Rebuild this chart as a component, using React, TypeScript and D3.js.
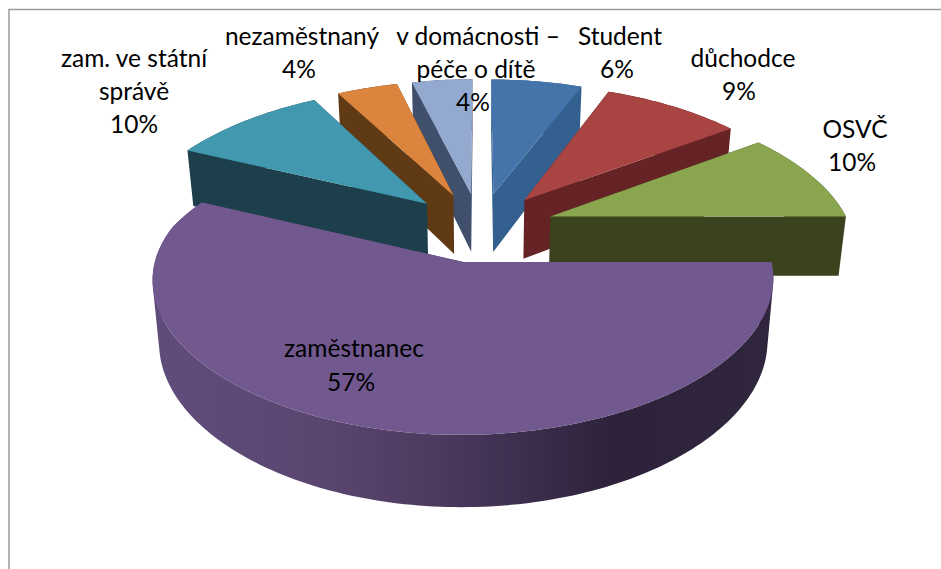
import React from "react";
import * as d3 from "d3";

const categories = ["Student", "důchodce", "OSVČ", "zaměstnanec", "zam. ve státní správě", "nezaměstnaný", "v domácnosti – péče o dítě"];
const shares = [6, 9, 10, 57, 10, 4, 4];
const topColors = ["#4474aa", "#a84442", "#89a54e", "#71588f", "#4198af", "#db843d", "#93a9cf"];
const wallColors = ["#33608f", "#652325", "#3a431e", "url(#mainWall)", "#1d3f4c", "#5f3a14", "#3f4f6c"];
const drawOrder = [6, 0, 5, 1, 4, 2, 3];
const labelLines = [
  [["Student", 620, 45], ["6%", 617, 78]],
  [["důchodce", 743, 67], ["9%", 739, 100]],
  [["OSVČ", 855, 138], ["10%", 852, 171]],
  [["zaměstnanec", 354, 357], ["57%", 351, 391]],
  [["zam. ve státní", 134, 67], ["správě", 134, 100], ["10%", 134, 133]],
  [["nezaměstnaný", 302, 45], ["4%", 299, 78]],
  [["v domácnosti –", 478, 45], ["péče o dítě", 476, 78], ["4%", 473, 111]],
];

const W = 941, H = 569;
const cx = 480, cy = 227, R = 300, A = 138.6, dist = 7.3, distXBack = 5.2, distXFront = 9, explode = 0.25, depth = 60, taper = 0.02;

type P = [number, number];
function project(X: number, Y: number, down = 0): P {
  const p = dist / (dist - Y);
  const dx = Y < 0 ? distXBack : distXFront;
  const px = (dx / (dx - Y)) * (1 - (taper * down) / depth);
  return [cx + R * X * px, cy + A * Y * p + down * p];
}

const arcs = d3.pie<number>().sort(null).startAngle(0).endAngle(2 * Math.PI)(shares);
const line = d3.line<P>().curve(d3.curveLinear);

function slicePaths(i: number) {
  const a = arcs[i];
  const mid = (a.startAngle + a.endAngle) / 2;
  const ox = explode * Math.sin(mid), oy = -explode * Math.cos(mid);
  const at = (t: number, r: number, down = 0) => project(ox + r * Math.sin(t), oy - r * Math.cos(t), down);
  const steps = Math.max(12, Math.round(shares[i] * 3));
  const ts = d3.range(0, steps + 1).map((k) => a.startAngle + ((a.endAngle - a.startAngle) * k) / steps);
  const top = [at(0, 0), ...ts.map((t) => at(t, 1))];
  const quads: P[][] = [
    [at(0, 0), at(a.startAngle, 1), at(a.startAngle, 1, depth), at(0, 0, depth)],
    [at(0, 0), at(a.endAngle, 1), at(a.endAngle, 1, depth), at(0, 0, depth)],
    ...ts.slice(1).map((t, k): P[] => [at(ts[k], 1), at(t, 1), at(t, 1, depth), at(ts[k], 1, depth)]),
  ];
  // One path with every quad wound the same way, so that the wall fills as a seamless union.
  const wall = quads
    .map((q) => (d3.polygonArea(q) < 0 ? q.slice().reverse() : q))
    .map((q) => line(q) + "Z")
    .join("");
  return { top: line(top) + "Z", wall };
}

export default function App() {
  return (
    <svg width={W} height={H} viewBox={`0 0 ${W} ${H}`} style={{ position: "absolute", left: 0, top: 0, background: "#fff" }}>
      <defs>
        <linearGradient id="mainWall" gradientUnits="userSpaceOnUse" x1={project(-1, 0.2)[0]} x2={project(1, 0.2)[0]} y1="0" y2="0">
          <stop offset="0" stopColor="#604c7a" />
          <stop offset="0.25" stopColor="#5a4570" />
          <stop offset="0.42" stopColor="#4e3a5e" />
          <stop offset="0.55" stopColor="#3e3050" />
          <stop offset="0.72" stopColor="#2d223a" />
          <stop offset="1" stopColor="#30263e" />
        </linearGradient>
      </defs>
      <path d={`M941 9.5H9V${H}`} fill="none" stroke="#9a9a9a" strokeWidth={1.5} />
      {drawOrder.map((i) => {
        const s = slicePaths(i);
        return (
          <g key={categories[i]}>
            <path d={s.wall} fill={wallColors[i]} />
            <path d={s.top} fill={topColors[i]} />
          </g>
        );
      })}
      <g fontFamily="Lato, sans-serif" fontSize={24.5} fill="#000" textAnchor="middle">
        {labelLines.flatMap((lines) =>
          lines.map(([t, x, y]) => (
            <text key={`${t}${x}`} x={x as number} y={y as number}>{t}</text>
          ))
        )}
      </g>
    </svg>
  );
}
